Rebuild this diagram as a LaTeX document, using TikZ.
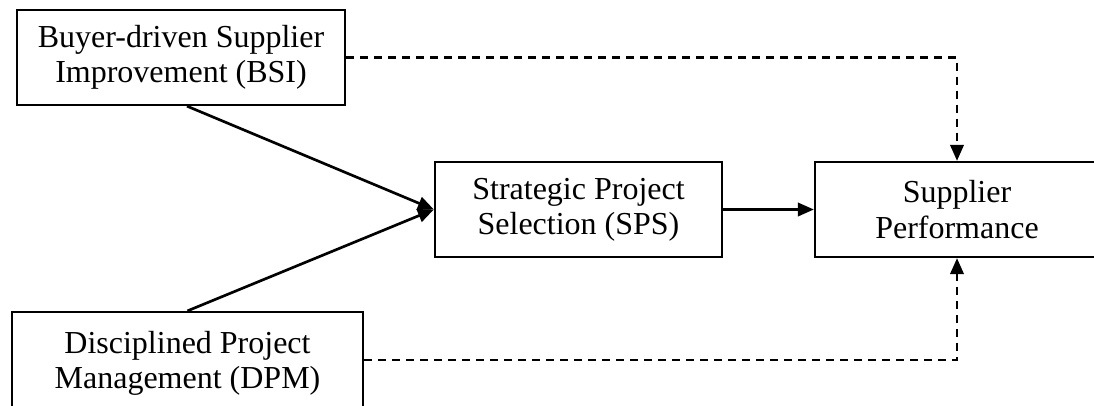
\documentclass[tikz,border=0pt]{standalone}
\usepackage{fontspec}
\setmainfont{Liberation Serif}
\usetikzlibrary{arrows.meta}
\begin{document}
\begin{tikzpicture}[x=0.75pt,y=-0.75pt,
  box/.style={draw, line width=1.7pt, rectangle, align=center, inner sep=0pt,
    font=\fontsize{24}{26.5}\selectfont},
  conn/.style={line width=2pt, -{Triangle[length=12pt,width=10pt]}},
  dconn/.style={conn, dash pattern=on 6pt off 4.5pt}]
\useasboundingbox (0,0) rectangle (1094,406);
\clip (0,0) rectangle (1094,406);
% factor boxes
\node[box, minimum width=246pt, minimum height=71.25pt] (bsi) at (181,57.5)
  {Buyer-driven Supplier\\Improvement (BSI)};
% this box runs past the lower edge; its text sits higher than its centre
\node[box, minimum width=263.25pt, minimum height=78pt] (dpm) at (187.5,364)
  {\raisebox{5.5pt}{\begin{tabular}{@{}c@{}}Disciplined Project\\Management (DPM)\end{tabular}}};
\node[box, minimum width=215.25pt, minimum height=71.25pt] (sps) at (578.5,209.5)
  {Strategic Project\\Selection (SPS)};
\node[box, minimum width=213pt, minimum height=71.25pt] (sp) at (957,209.5)
  {Supplier\\Performance};
% direct paths
\draw[conn] ([xshift=4.5pt]bsi.south) -- (sps.west);
\draw[conn] (dpm.north) -- (sps.west);
\draw[conn] (sps) -- (sp);
% direct effects on performance
\draw[dconn] (bsi.east) -| (sp.north);
\draw[dconn] ([yshift=3pt]dpm.east) -| (sp.south);
\end{tikzpicture}
\end{document}
